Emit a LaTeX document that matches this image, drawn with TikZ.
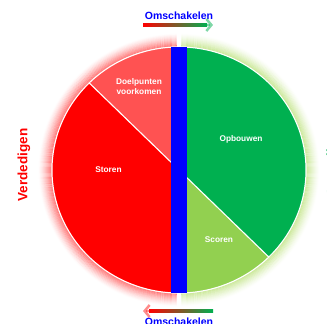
\documentclass[tikz,border=0pt]{standalone}
\usepackage{fontspec}
\setmainfont{Liberation Sans}
\usetikzlibrary{arrows.meta}

\definecolor{rouge}{HTML}{FF0000}
\definecolor{rougeclair}{HTML}{FF5252}
\definecolor{vert}{HTML}{00B050}
\definecolor{vertclair}{HTML}{92D050}
\definecolor{halovert}{HTML}{B5DE6E}
\definecolor{bleu}{HTML}{0000FF}

\tikzset{
  etiquette/.style={text=white, font=\bfseries\fontsize{8.3}{10}\selectfont, align=center},
  camp/.style={font=\bfseries\fontsize{13.5}{16}\selectfont},
  bascule/.style={font=\bfseries\fontsize{10.5}{12}\selectfont, text=bleu},
  pointe/.style={-{Straight Barb[length=5pt,width=12pt]}, line width=2.5pt},
}

\begin{document}
\begin{tikzpicture}[x=1pt,y=1pt]
  \useasboundingbox (0,0) rectangle (327,324);
  \def\rx{127}
  \def\ry{123}
  \coordinate (centre) at (179,154);

  % Halos
  \foreach \k in {1,...,13} {
    \pgfmathsetmacro{\op}{0.5*(1-\k/14)^1.5}
    \draw[rouge, opacity=\op, line width=1.1pt]
    (centre) ++(91:{\rx+\k} and {\ry+\k}) arc (91:269:{\rx+\k} and {\ry+\k});
    \draw[halovert, opacity=1.4*\op, line width=1.1pt]
    (centre) ++(-89:{\rx+\k} and {\ry+\k}) arc (-89:89:{\rx+\k} and {\ry+\k});
  }

  % Secteurs
  \foreach \debut/\fin/\couleur in {90/135/rougeclair, 135/270/rouge, 270/315/vertclair, -45/90/vert} {
    \filldraw[fill=\couleur, draw=white, line width=1pt]
    (centre) -- ++(\debut:{\rx} and {\ry}) arc (\debut:\fin:{\rx} and {\ry}) -- cycle;
  }

  % Barre centrale
  \node[fill=bleu, inner sep=0, minimum width=16, minimum height=246] (barre) at (centre) {};

  % Etiquettes des secteurs
  \node[etiquette] (doelpunten) at ([shift={(-40,83)}]centre) {Doelpunten\\voorkomen};
  \node[etiquette] (storen) at ([shift={(-70.5,0)}]centre) {Storen};
  \node[etiquette] (opbouwen) at ([shift={(62,31)}]centre) {Opbouwen};
  \node[etiquette] (scoren) at ([shift={(40,-70)}]centre) {Scoren};

  % Verdedigen et Aanvallen
  \node[camp, text=rouge, rotate=90] (verdedigen) at (24,159) {Verdedigen};
  \node[camp, text=vert, rotate=90] (aanvallen) at (331.5,159) {Aanvallen};

  % Omschakelen en haut
  \node[bascule] (omschakelenhaut) at (179,308) {Omschakelen};
  \coordinate (hautgauche) at (143,299);
  \coordinate (hautdroite) at (213,299);
  \shade[left color=rouge, right color=vert] (143,297.6) rectangle (207,300.4);
  \draw[pointe, vert, opacity=.5] ([xshift=-8]hautdroite) -- (hautdroite);

  % Omschakelen en bas
  \node[bascule] (omschakelenbas) at (179,2.5) {Omschakelen};
  \coordinate (basgauche) at (143,13);
  \coordinate (basdroite) at (213,13);
  \shade[left color=rouge, right color=vert] (149,11.6) rectangle (213,14.4);
  \draw[pointe, rouge, opacity=.45] ([xshift=8]basgauche) -- (basgauche);
\end{tikzpicture}
\end{document}
